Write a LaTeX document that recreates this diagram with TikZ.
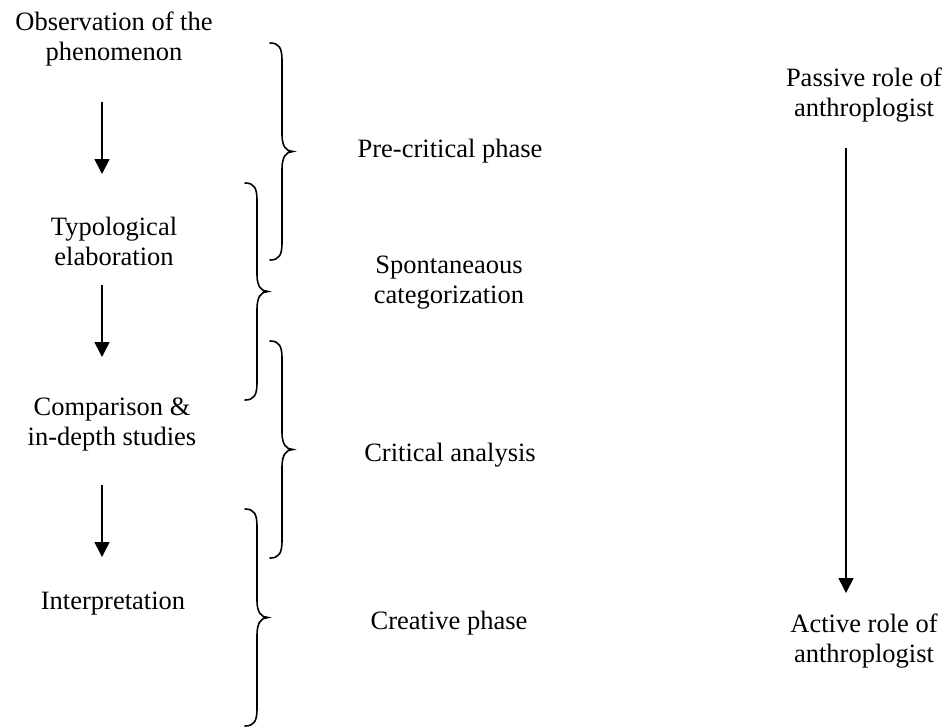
\documentclass[tikz,border=0pt]{standalone}
\usepackage{fontspec}
\setmainfont{Liberation Serif}
\usetikzlibrary{arrows.meta}
\begin{document}
\begin{tikzpicture}[x=1pt,y=-1pt,
  lbl/.style={inner sep=0pt,align=center,anchor=base,font=\fontsize{26.5}{30}\selectfont},
  flow/.style={line width=1.6pt,-{Triangle[width=15pt,length=15pt]}},
  curlybrace/.pic={\draw[line width=1.6pt,line cap=round]
    (0,0) .. controls (9,0) and (12,5) .. (12,17) -- (12,91.5)
    .. controls (12,103) and (16,108.5) .. (23,108.5)
    .. controls (16,108.5) and (12,114) .. (12,126) -- (12,200)
    .. controls (12,212) and (9,217) .. (0,217);}]
\useasboundingbox (0,0) rectangle (944,726);
% left column (base anchor = baseline of the last line)
\node[lbl] (obs) at (114,60) {Observation of the\\phenomenon};
\node[lbl] (typ) at (114,265) {Typological\\elaboration};
\node[lbl] (comp) at (112,445) {Comparison \&\\in-depth studies};
\node[lbl] (interp) at (113,609) {Interpretation};
\coordinate (a1s) at (102,102); \coordinate (a1e) at (102,174);
\coordinate (a2s) at (102,285); \coordinate (a2e) at (102,357);
\coordinate (a3s) at (102,485); \coordinate (a3e) at (102,557);
\draw[flow] (a1s) -- (a1e);
\draw[flow] (a2s) -- (a2e);
\draw[flow] (a3s) -- (a3e);
% braces
\pic at (270,43) {curlybrace};
\pic at (245,183) {curlybrace};
\pic at (270,341) {curlybrace};
\pic at (245,509) {curlybrace};
% phase labels
\node[lbl] (pre) at (450,157) {Pre-critical phase};
\node[lbl] (spont) at (449,303) {Spontaneaous\\categorization};
\node[lbl] (crit) at (450,461) {Critical analysis};
\node[lbl] (crea) at (449,629) {Creative phase};
% right column
\node[lbl] (passive) at (864,116) {Passive role of\\anthroplogist};
\node[lbl] (active) at (864,662) {Active role of\\anthroplogist};
\coordinate (rs) at (846,148); \coordinate (re) at (846,593);
\draw[flow] (rs) -- (re);
\end{tikzpicture}
\end{document}
